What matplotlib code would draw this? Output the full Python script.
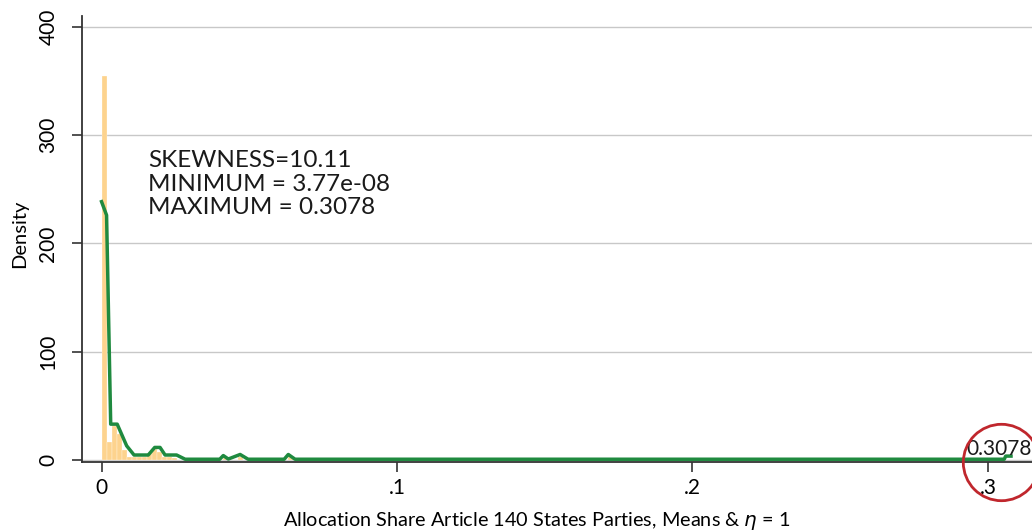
import numpy as np
import matplotlib.pyplot as plt

plt.rcParams['font.family'] = ['Lato', 'DejaVu Sans']

# histogram of allocation shares (density per bin)
bin_width = 0.3078 / 180
bar_heights = [355, 16.6, 31, 24, 9, 3, 3, 3, 3, 6, 10, 7, 3, 3, 1.5,
               0, 0, 0, 0, 0, 0, 0, 0, 0, 2, 0, 0, 3, 0, 0,
               0, 0, 0, 0, 0, 0, 0, 3]

# kernel density estimate
kde_x = [0.0, 0.0017, 0.0031, 0.0053, 0.0085, 0.011, 0.0158, 0.018, 0.0198,
         0.0215, 0.0254, 0.0283, 0.0400, 0.0412, 0.0429, 0.0469, 0.0496,
         0.0618, 0.0632, 0.0655, 0.3055, 0.3060, 0.3078]
kde_y = [238.5, 226, 33, 33, 13, 4.5, 4.5, 11.5, 11.5,
         4.5, 4.5, 0.6, 0.6, 4, 0.8, 5, 0.6,
         0.6, 5, 0.6, 0.6, 3.5, 3.5]

skewness = 10.11
min_share = '3.77e-08'
max_share = 0.3078

xticks = [0, 0.1, 0.2, 0.3]
xtick_labels = ['0', '.1', '.2', '.3']
yticks = [0, 100, 200, 300, 400]

fig = plt.figure(figsize=(10.32, 5.32), dpi=100)
ax = fig.add_axes([0.0795, 0.1325, 0.9205, 0.8375])

edges = np.arange(len(bar_heights)) * bin_width
ax.bar(edges, bar_heights, width=bin_width, align='edge', color='#fdd38e',
       edgecolor='white', linewidth=0.2, zorder=2)
ax.plot(kde_x, kde_y, color='#1f8a3f', linewidth=2.5, zorder=3)

ax.set_xlim(-0.0066, 0.3149)
ax.set_ylim(-1.5, 410)
ax.set_xticks(xticks)
ax.set_xticklabels(xtick_labels)
ax.set_yticks(yticks)
ax.set_yticklabels([str(v) for v in yticks], rotation=90, va='center')
ax.tick_params(axis='both', length=7, width=1.2, color='#333333', labelsize=15)
ax.tick_params(axis='y', pad=10)
ax.tick_params(axis='x', pad=5)
ax.grid(axis='y', color='#c8c8c8', linewidth=1, zorder=0)
ax.set_axisbelow(True)
for side in ['top', 'right']:
    ax.spines[side].set_visible(False)
for side in ['left', 'bottom']:
    ax.spines[side].set_color('#333333')
    ax.spines[side].set_linewidth(1.3)

ax.set_ylabel('Density', fontsize=14.5)
ax.yaxis.set_label_coords(-0.057, 0.51)
ax.set_xlabel(r'Allocation Share Article 140 States Parties, Means & $\eta$ = 1',
              fontsize=14.3)
ax.xaxis.set_label_coords(0.479, -0.108)

ax.text(0.0157, 286,
        'SKEWNESS=%.2f\nMINIMUM = %s\nMAXIMUM = %.4f' % (skewness, min_share, max_share),
        fontsize=17.5, va='top', ha='left', linespacing=1.15, color='#1a1a1a')

# mark the maximum share
ax.text(max_share - 0.015, 0.8, '%.4f' % max_share, fontsize=15,
        ha='left', va='bottom', color='#1a1a1a')
ax.plot([max_share - 0.0034], [-2], marker='o', markersize=55, mfc='none',
        mec='#c0272d', mew=2, clip_on=False, zorder=4)

fig.savefig('out.png', dpi=100)
